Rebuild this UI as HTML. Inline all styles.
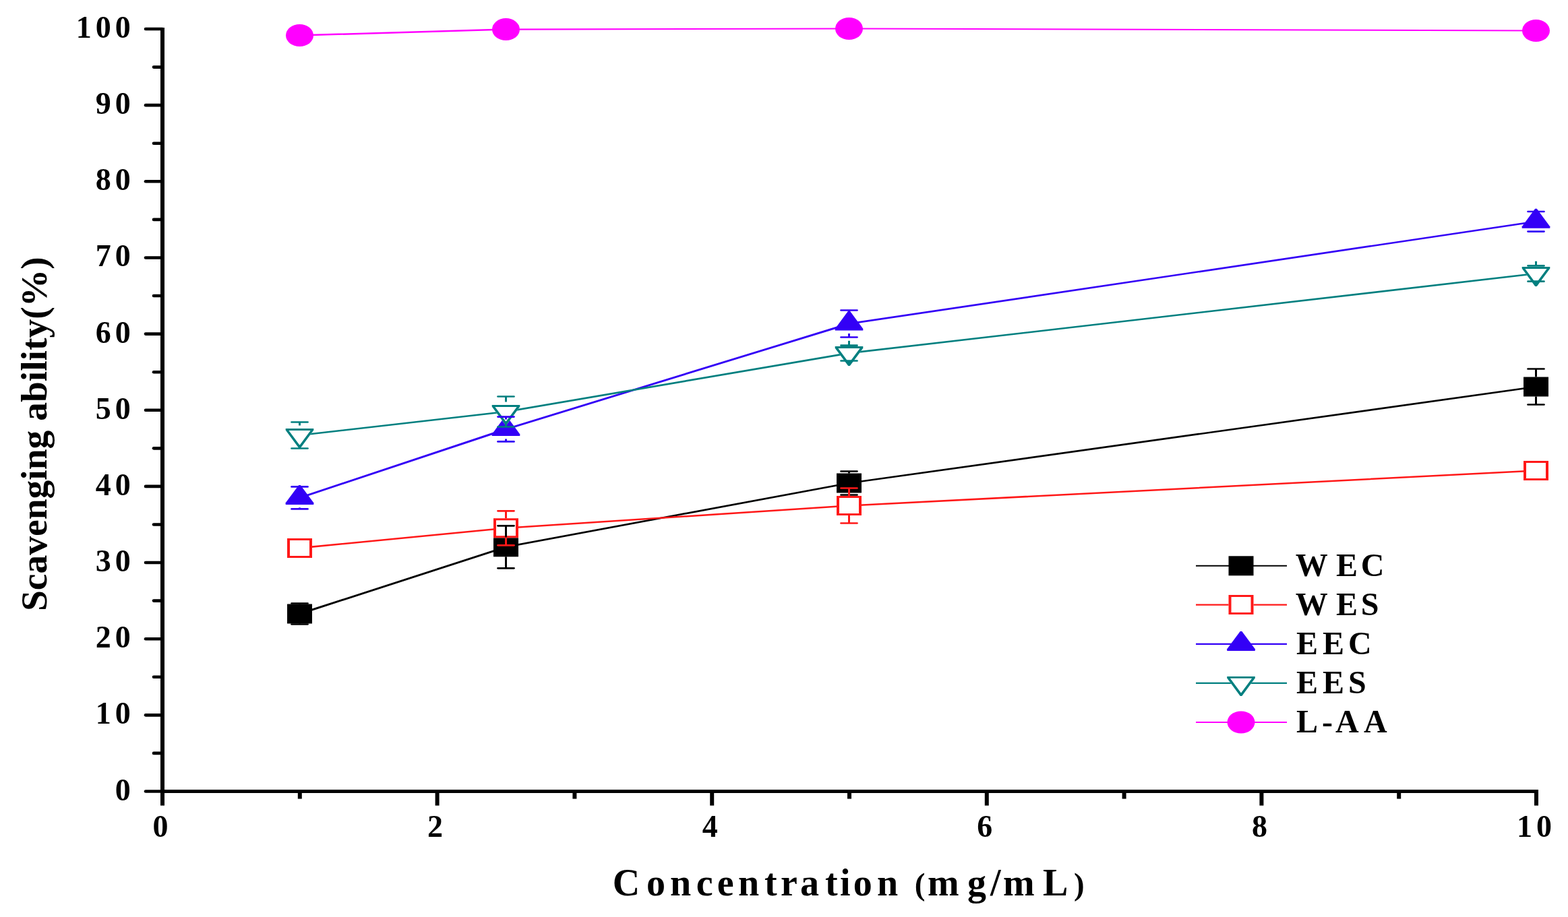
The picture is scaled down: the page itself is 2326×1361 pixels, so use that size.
<!DOCTYPE html>
<html><head><meta charset="utf-8"><title>Scavenging ability vs concentration</title>
<style>
html,body{margin:0;padding:0;background:#fff;}
body{width:2326px;height:1361px;overflow:hidden;position:relative;}
svg{position:absolute;left:0;top:0;display:block;}
text{font-family:'Liberation Serif', 'Times New Roman', serif;font-weight:bold;fill:#000;}
</style></head><body>
<svg width="2326" height="1361" viewBox="0 0 2326 1361">
<rect width="2326" height="1361" fill="#fff"/>
<g stroke="#000" fill="none">
<line x1="241" y1="41" x2="241" y2="1177" stroke-width="6"/>
<line x1="238" y1="1174.5" x2="2282" y2="1174.5" stroke-width="5"/>
<line x1="216" y1="1174.5" x2="241" y2="1174.5" stroke-width="4.6" stroke-linecap="round"/>
<line x1="228" y1="1117.92" x2="241" y2="1117.92" stroke-width="4.6" stroke-linecap="round"/>
<line x1="216" y1="1061.35" x2="241" y2="1061.35" stroke-width="4.6" stroke-linecap="round"/>
<line x1="228" y1="1004.77" x2="241" y2="1004.77" stroke-width="4.6" stroke-linecap="round"/>
<line x1="216" y1="948.2" x2="241" y2="948.2" stroke-width="4.6" stroke-linecap="round"/>
<line x1="228" y1="891.62" x2="241" y2="891.62" stroke-width="4.6" stroke-linecap="round"/>
<line x1="216" y1="835.05" x2="241" y2="835.05" stroke-width="4.6" stroke-linecap="round"/>
<line x1="228" y1="778.48" x2="241" y2="778.48" stroke-width="4.6" stroke-linecap="round"/>
<line x1="216" y1="721.9" x2="241" y2="721.9" stroke-width="4.6" stroke-linecap="round"/>
<line x1="228" y1="665.33" x2="241" y2="665.33" stroke-width="4.6" stroke-linecap="round"/>
<line x1="216" y1="608.75" x2="241" y2="608.75" stroke-width="4.6" stroke-linecap="round"/>
<line x1="228" y1="552.18" x2="241" y2="552.18" stroke-width="4.6" stroke-linecap="round"/>
<line x1="216" y1="495.6" x2="241" y2="495.6" stroke-width="4.6" stroke-linecap="round"/>
<line x1="228" y1="439.02" x2="241" y2="439.02" stroke-width="4.6" stroke-linecap="round"/>
<line x1="216" y1="382.45" x2="241" y2="382.45" stroke-width="4.6" stroke-linecap="round"/>
<line x1="228" y1="325.88" x2="241" y2="325.88" stroke-width="4.6" stroke-linecap="round"/>
<line x1="216" y1="269.3" x2="241" y2="269.3" stroke-width="4.6" stroke-linecap="round"/>
<line x1="228" y1="212.73" x2="241" y2="212.73" stroke-width="4.6" stroke-linecap="round"/>
<line x1="216" y1="156.15" x2="241" y2="156.15" stroke-width="4.6" stroke-linecap="round"/>
<line x1="228" y1="99.58" x2="241" y2="99.58" stroke-width="4.6" stroke-linecap="round"/>
<line x1="216" y1="43" x2="241" y2="43" stroke-width="4.6" stroke-linecap="round"/>
<line x1="241" y1="1175" x2="241" y2="1195.6" stroke-width="6"/>
<line x1="444.8" y1="1175" x2="444.8" y2="1185.6" stroke-width="6"/>
<line x1="648.6" y1="1175" x2="648.6" y2="1195.6" stroke-width="6"/>
<line x1="852.4" y1="1175" x2="852.4" y2="1185.6" stroke-width="6"/>
<line x1="1056.2" y1="1175" x2="1056.2" y2="1195.6" stroke-width="6"/>
<line x1="1260" y1="1175" x2="1260" y2="1185.6" stroke-width="6"/>
<line x1="1463.8" y1="1175" x2="1463.8" y2="1195.6" stroke-width="6"/>
<line x1="1667.6" y1="1175" x2="1667.6" y2="1185.6" stroke-width="6"/>
<line x1="1871.4" y1="1175" x2="1871.4" y2="1195.6" stroke-width="6"/>
<line x1="2075.2" y1="1175" x2="2075.2" y2="1185.6" stroke-width="6"/>
<line x1="2279" y1="1175" x2="2279" y2="1195.6" stroke-width="6"/>
</g>
<g font-size="46">
<text x="170.8" y="1187.5">0</text>
<text x="141.8 170.8" y="1074.35">10</text>
<text x="141.8 170.8" y="961.2">20</text>
<text x="141.8 170.8" y="848.05">30</text>
<text x="141.8 170.8" y="734.9">40</text>
<text x="141.8 170.8" y="621.75">50</text>
<text x="141.8 170.8" y="508.6">60</text>
<text x="141.8 170.8" y="395.45">70</text>
<text x="141.8 170.8" y="282.3">80</text>
<text x="141.8 170.8" y="169.15">90</text>
<text x="112.8 141.8 170.8" y="56">100</text>
<text x="226.5" y="1242">0</text>
<text x="634.1" y="1242">2</text>
<text x="1041.7" y="1242">4</text>
<text x="1449.3" y="1242">6</text>
<text x="1856.9" y="1242">8</text>
<text x="2250 2279" y="1242">10</text>
</g>
<text font-size="56" x="908.7 958.9 994 1032.8 1063.8 1095 1134 1158 1187 1224.1 1246.1 1265.8 1300.9 1330 1356.7 1376 1434.9 1469 1488 1547 1593" y="1329">Concentration <tspan font-size="47" dy="-1.5">(</tspan><tspan dy="1.5">mg/mL</tspan><tspan font-size="47" dy="-1.5">)</tspan></text>
<text font-size="55.5" transform="translate(69 907) rotate(-90)" x="0" y="0">Scavenging ability(%)</text>
<line x1="444.5" y1="911" x2="750.5" y2="811.8" stroke="#000000" stroke-width="2.9" stroke-linecap="round"/>
<line x1="750.5" y1="811.8" x2="1259.5" y2="717" stroke="#000000" stroke-width="2.71" stroke-linecap="round"/>
<line x1="1259.5" y1="717" x2="2278.5" y2="574" stroke="#000000" stroke-width="2.65" stroke-linecap="round"/>
<rect x="426" y="896.5" width="37" height="29" fill="#000000"/>
<rect x="732" y="797.3" width="37" height="29" fill="#000000"/>
<rect x="1241" y="702.5" width="37" height="29" fill="#000000"/>
<rect x="2260" y="559.5" width="37" height="29" fill="#000000"/>
<line x1="444.5" y1="813.4" x2="750.5" y2="783.8" stroke="#ff1818" stroke-width="2.59" stroke-linecap="round"/>
<line x1="750.5" y1="783.8" x2="1259.5" y2="750.5" stroke="#ff1818" stroke-width="2.54" stroke-linecap="round"/>
<line x1="1259.5" y1="750.5" x2="2278.5" y2="698.4" stroke="#ff1818" stroke-width="2.52" stroke-linecap="round"/>
<rect x="426" y="798.9" width="37" height="29" fill="#fff"/><path fill="#ff1818" fill-rule="evenodd" d="M426 798.9h37v29h-37zM430 801.9v23h29v-23z"/>
<rect x="732" y="769.3" width="37" height="29" fill="#fff"/><path fill="#ff1818" fill-rule="evenodd" d="M732 769.3h37v29h-37zM736 772.3v23h29v-23z"/>
<rect x="1241" y="736" width="37" height="29" fill="#fff"/><path fill="#ff1818" fill-rule="evenodd" d="M1241 736h37v29h-37zM1245 739v23h29v-23z"/>
<rect x="2260" y="683.9" width="37" height="29" fill="#fff"/><path fill="#ff1818" fill-rule="evenodd" d="M2260 683.9h37v29h-37zM2264 686.9v23h29v-23z"/>
<line x1="444.5" y1="738.9" x2="750.5" y2="637" stroke="#3300f6" stroke-width="2.9" stroke-linecap="round"/>
<line x1="750.5" y1="637" x2="1259.5" y2="480.5" stroke="#3300f6" stroke-width="2.88" stroke-linecap="round"/>
<line x1="1259.5" y1="480.5" x2="2278.5" y2="328.8" stroke="#3300f6" stroke-width="2.66" stroke-linecap="round"/>
<polygon fill="#3300f6" points="423.7,748.9 423.7,746.3 443.2,719.9 445.8,719.9 465.3,746.3 465.3,748.9"/>
<polygon fill="#3300f6" points="729.7,647 729.7,644.4 749.2,618 751.8,618 771.3,644.4 771.3,647"/>
<polygon fill="#3300f6" points="1238.7,490.5 1238.7,487.9 1258.2,461.5 1260.8,461.5 1280.3,487.9 1280.3,490.5"/>
<polygon fill="#3300f6" points="2257.7,338.8 2257.7,336.2 2277.2,309.8 2279.8,309.8 2299.3,336.2 2299.3,338.8"/>
<line x1="444.5" y1="646" x2="750.5" y2="611" stroke="#007f7f" stroke-width="2.61" stroke-linecap="round"/>
<line x1="750.5" y1="611" x2="1259.5" y2="524.1" stroke="#007f7f" stroke-width="2.69" stroke-linecap="round"/>
<line x1="1259.5" y1="524.1" x2="2278.5" y2="406" stroke="#007f7f" stroke-width="2.61" stroke-linecap="round"/>
<polygon fill="#fff" points="423.7,636 465.3,636 465.3,638.6 445.8,665 443.2,665 423.7,638.6"/><path fill="#007f7f" fill-rule="evenodd" d="M423.7 636 L465.3 636 L465.3 638.6 L445.8 665 L443.2 665 L423.7 638.6ZM428.4 638.9L444.5 660.7L460.6 638.9Z"/>
<polygon fill="#fff" points="729.7,601 771.3,601 771.3,603.6 751.8,630 749.2,630 729.7,603.6"/><path fill="#007f7f" fill-rule="evenodd" d="M729.7 601 L771.3 601 L771.3 603.6 L751.8 630 L749.2 630 L729.7 603.6ZM734.4 603.9L750.5 625.7L766.6 603.9Z"/>
<polygon fill="#fff" points="1238.7,514.1 1280.3,514.1 1280.3,516.7 1260.8,543.1 1258.2,543.1 1238.7,516.7"/><path fill="#007f7f" fill-rule="evenodd" d="M1238.7 514.1 L1280.3 514.1 L1280.3 516.7 L1260.8 543.1 L1258.2 543.1 L1238.7 516.7ZM1243.4 517L1259.5 538.8L1275.6 517Z"/>
<polygon fill="#fff" points="2257.7,396 2299.3,396 2299.3,398.6 2279.8,425 2277.2,425 2257.7,398.6"/><path fill="#007f7f" fill-rule="evenodd" d="M2257.7 396 L2299.3 396 L2299.3 398.6 L2279.8 425 L2277.2 425 L2257.7 398.6ZM2262.4 398.9L2278.5 420.7L2294.6 398.9Z"/>
<line x1="444.5" y1="52.5" x2="750.5" y2="43.6" stroke="#ff00ff" stroke-width="2.49" stroke-linecap="round"/>
<line x1="750.5" y1="43.6" x2="1259.5" y2="42.5" stroke="#ff00ff" stroke-width="2.1" stroke-linecap="round"/>
<line x1="1259.5" y1="42.5" x2="2278.5" y2="45.5" stroke="#ff00ff" stroke-width="2.1" stroke-linecap="round"/>
<ellipse cx="444.5" cy="52.5" rx="20.5" ry="16.5" fill="#ff00ff"/>
<ellipse cx="750.5" cy="43.6" rx="20.5" ry="16.5" fill="#ff00ff"/>
<ellipse cx="1259.5" cy="42.5" rx="20.5" ry="16.5" fill="#ff00ff"/>
<ellipse cx="2278.5" cy="45.5" rx="20.5" ry="16.5" fill="#ff00ff"/>
<g stroke="#000000" fill="none"><line x1="444.5" y1="895.5" x2="444.5" y2="896.5" stroke-width="3"/><line x1="444.5" y1="926.5" x2="444.5" y2="925.5" stroke-width="3"/><line x1="432.5" y1="895.5" x2="456.5" y2="895.5" stroke-width="2.7" stroke-linecap="round"/><line x1="432.5" y1="926.5" x2="456.5" y2="926.5" stroke-width="2.7" stroke-linecap="round"/></g>
<g stroke="#000000" fill="none"><line x1="750.5" y1="780.3" x2="750.5" y2="797.3" stroke-width="3"/><line x1="750.5" y1="843.3" x2="750.5" y2="826.3" stroke-width="3"/><line x1="738.5" y1="780.3" x2="762.5" y2="780.3" stroke-width="2.7" stroke-linecap="round"/><line x1="738.5" y1="843.3" x2="762.5" y2="843.3" stroke-width="2.7" stroke-linecap="round"/></g>
<g stroke="#000000" fill="none"><line x1="1259.5" y1="699.5" x2="1259.5" y2="702.5" stroke-width="3"/><line x1="1259.5" y1="734.5" x2="1259.5" y2="731.5" stroke-width="3"/><line x1="1247.5" y1="699.5" x2="1271.5" y2="699.5" stroke-width="2.7" stroke-linecap="round"/><line x1="1247.5" y1="734.5" x2="1271.5" y2="734.5" stroke-width="2.7" stroke-linecap="round"/></g>
<g stroke="#000000" fill="none"><line x1="2278.5" y1="547.5" x2="2278.5" y2="559.5" stroke-width="3"/><line x1="2278.5" y1="600.5" x2="2278.5" y2="588.5" stroke-width="3"/><line x1="2266.5" y1="547.5" x2="2290.5" y2="547.5" stroke-width="2.7" stroke-linecap="round"/><line x1="2266.5" y1="600.5" x2="2290.5" y2="600.5" stroke-width="2.7" stroke-linecap="round"/></g>
<g stroke="#ff1818" fill="none"><line x1="750.5" y1="758.3" x2="750.5" y2="769.3" stroke-width="3"/><line x1="750.5" y1="809.3" x2="750.5" y2="798.3" stroke-width="3"/><line x1="738.5" y1="758.3" x2="762.5" y2="758.3" stroke-width="2.7" stroke-linecap="round"/><line x1="738.5" y1="809.3" x2="762.5" y2="809.3" stroke-width="2.7" stroke-linecap="round"/></g>
<g stroke="#ff1818" fill="none"><line x1="1259.5" y1="724.5" x2="1259.5" y2="736" stroke-width="3"/><line x1="1259.5" y1="776.5" x2="1259.5" y2="765" stroke-width="3"/><line x1="1247.5" y1="724.5" x2="1271.5" y2="724.5" stroke-width="2.7" stroke-linecap="round"/><line x1="1247.5" y1="776.5" x2="1271.5" y2="776.5" stroke-width="2.7" stroke-linecap="round"/></g>
<g stroke="#3300f6" fill="none"><line x1="444.5" y1="722.4" x2="444.5" y2="724.4" stroke-width="3"/><line x1="444.5" y1="755.4" x2="444.5" y2="753.4" stroke-width="3"/><line x1="432.5" y1="722.4" x2="456.5" y2="722.4" stroke-width="2.7" stroke-linecap="round"/><line x1="432.5" y1="755.4" x2="456.5" y2="755.4" stroke-width="2.7" stroke-linecap="round"/></g>
<g stroke="#3300f6" fill="none"><line x1="750.5" y1="618.6" x2="750.5" y2="622.5" stroke-width="3"/><line x1="750.5" y1="655.4" x2="750.5" y2="651.5" stroke-width="3"/><line x1="738.5" y1="618.6" x2="762.5" y2="618.6" stroke-width="2.7" stroke-linecap="round"/><line x1="738.5" y1="655.4" x2="762.5" y2="655.4" stroke-width="2.7" stroke-linecap="round"/></g>
<g stroke="#3300f6" fill="none"><line x1="1259.5" y1="460.5" x2="1259.5" y2="466" stroke-width="3"/><line x1="1259.5" y1="500.5" x2="1259.5" y2="495" stroke-width="3"/><line x1="1247.5" y1="460.5" x2="1271.5" y2="460.5" stroke-width="2.7" stroke-linecap="round"/><line x1="1247.5" y1="500.5" x2="1271.5" y2="500.5" stroke-width="2.7" stroke-linecap="round"/></g>
<g stroke="#3300f6" fill="none"><line x1="2278.5" y1="314" x2="2278.5" y2="314.3" stroke-width="3"/><line x1="2278.5" y1="343.6" x2="2278.5" y2="343.3" stroke-width="3"/><line x1="2266.5" y1="314" x2="2290.5" y2="314" stroke-width="2.7" stroke-linecap="round"/><line x1="2266.5" y1="343.6" x2="2290.5" y2="343.6" stroke-width="2.7" stroke-linecap="round"/></g>
<g stroke="#007f7f" fill="none"><line x1="444.5" y1="626.5" x2="444.5" y2="631.5" stroke-width="3"/><line x1="444.5" y1="665.5" x2="444.5" y2="660.5" stroke-width="3"/><line x1="432.5" y1="626.5" x2="456.5" y2="626.5" stroke-width="2.7" stroke-linecap="round"/><line x1="432.5" y1="665.5" x2="456.5" y2="665.5" stroke-width="2.7" stroke-linecap="round"/></g>
<g stroke="#007f7f" fill="none"><line x1="750.5" y1="588.5" x2="750.5" y2="596.5" stroke-width="3"/><line x1="750.5" y1="633.5" x2="750.5" y2="625.5" stroke-width="3"/><line x1="738.5" y1="588.5" x2="762.5" y2="588.5" stroke-width="2.7" stroke-linecap="round"/><line x1="738.5" y1="633.5" x2="762.5" y2="633.5" stroke-width="2.7" stroke-linecap="round"/></g>
<g stroke="#007f7f" fill="none"><line x1="1259.5" y1="512.7" x2="1259.5" y2="505.8" stroke-width="3"/><line x1="1259.5" y1="535.5" x2="1259.5" y2="542.4" stroke-width="3"/><line x1="1247.5" y1="512.7" x2="1271.5" y2="512.7" stroke-width="2.7" stroke-linecap="round"/><line x1="1247.5" y1="535.5" x2="1271.5" y2="535.5" stroke-width="2.7" stroke-linecap="round"/></g>
<g stroke="#007f7f" fill="none"><line x1="2278.5" y1="394.3" x2="2278.5" y2="387.7" stroke-width="3"/><line x1="2278.5" y1="417.7" x2="2278.5" y2="424.3" stroke-width="3"/><line x1="2266.5" y1="394.3" x2="2290.5" y2="394.3" stroke-width="2.7" stroke-linecap="round"/><line x1="2266.5" y1="417.7" x2="2290.5" y2="417.7" stroke-width="2.7" stroke-linecap="round"/></g>
<line x1="1774" y1="839.8" x2="1909" y2="839.8" stroke="#000000" stroke-width="2.1"/>
<rect x="1822.5" y="825.3" width="37" height="29" fill="#000000"/>
<text font-size="48" x="1921.8 1981.9 2018.7" y="855">WEC</text>
<line x1="1774" y1="897.6" x2="1909" y2="897.6" stroke="#ff1818" stroke-width="2.1"/>
<rect x="1822.5" y="883.1" width="37" height="29" fill="#fff"/><path fill="#ff1818" fill-rule="evenodd" d="M1822.5 883.1h37v29h-37zM1826.5 886.1v23h29v-23z"/>
<text font-size="48" x="1921.8 1981.9 2018.7" y="913">WES</text>
<line x1="1774" y1="955.9" x2="1909" y2="955.9" stroke="#3300f6" stroke-width="2.1"/>
<polygon fill="#3300f6" points="1820.2,965.9 1820.2,963.3 1839.7,936.9 1842.3,936.9 1861.8,963.3 1861.8,965.9"/>
<text font-size="48" x="1922.9 1962 2000" y="971">EEC</text>
<line x1="1774" y1="1013.9" x2="1909" y2="1013.9" stroke="#007f7f" stroke-width="2.1"/>
<polygon fill="#fff" points="1820.2,1003.9 1861.8,1003.9 1861.8,1006.5 1842.3,1032.9 1839.7,1032.9 1820.2,1006.5"/><path fill="#007f7f" fill-rule="evenodd" d="M1820.2 1003.9 L1861.8 1003.9 L1861.8 1006.5 L1842.3 1032.9 L1839.7 1032.9 L1820.2 1006.5ZM1824.9 1006.8L1841 1028.6L1857.1 1006.8Z"/>
<text font-size="48" x="1922.9 1962 2000" y="1029">EES</text>
<line x1="1774" y1="1072" x2="1909" y2="1072" stroke="#ff00ff" stroke-width="2.1"/>
<ellipse cx="1841" cy="1072" rx="20.5" ry="16.5" fill="#ff00ff"/>
<text font-size="48" x="1922.9 1961.1 1981 2022.9" y="1087">L-AA</text>
</svg></body></html>
